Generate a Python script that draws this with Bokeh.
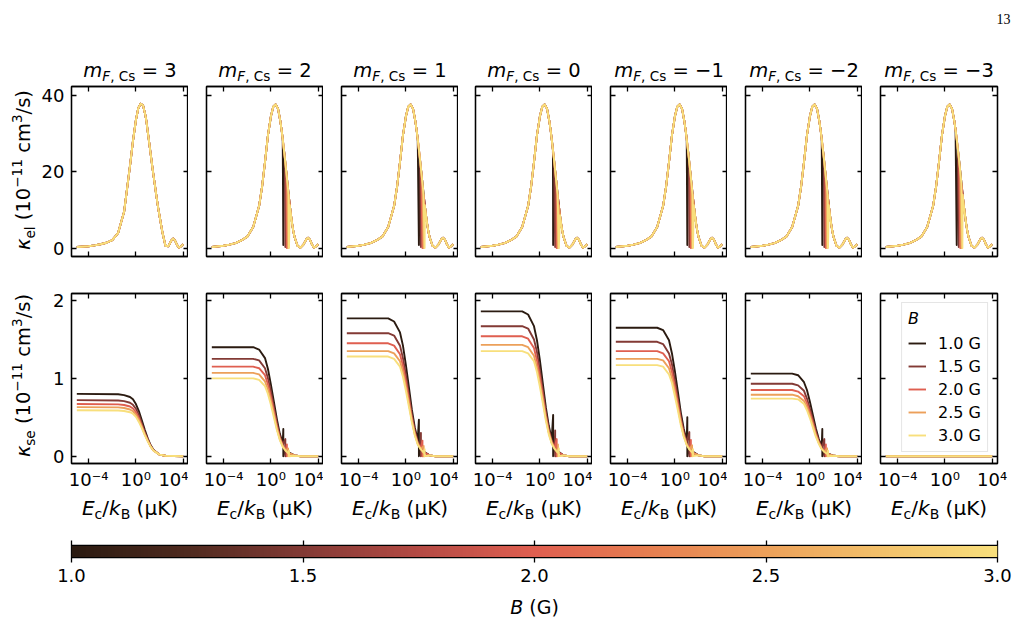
import numpy as np
from bokeh.plotting import figure
from bokeh.layouts import row, column
from bokeh.models import (FixedTicker, LogAxis, LinearAxis, Label, Range1d, Legend,
                          LegendItem, LinearColorMapper, CustomJSTickFormatter,
                          NumeralTickFormatter)
from bokeh.embed import file_html
from bokeh.resources import INLINE

# ---------------------------------------------------------------- data
B_FIELDS = [1.0, 1.5, 2.0, 2.5, 3.0]          # magnetic field (G)
MF_CS = ["3", "2", "1", "0", "−1", "−2", "−3"]  # m_F of Cs, one column each

# log10(E_c / k_B in μK) sample points for the elastic rate
LOG_EC_EL = [-5.0, -4.0, -3.5, -3.0, -2.5, -2.0, -1.5, -1.0, -0.75, -0.5, -0.25, 0.0,
             0.2, 0.4, 0.6, 0.8, 0.9, 1.0, 1.1, 1.2, 1.3, 1.4, 1.5, 1.6, 1.7, 1.8,
             1.9, 2.0, 2.25, 2.5, 2.75, 3.0, 3.15, 3.3, 3.5, 3.65, 3.8, 4.0]

# kappa_el (1e-11 cm^3/s)
KEL_MF3 = [0.3, 0.5, 0.7, 1.0, 1.4, 2.1, 4.0, 9.5, 15.5, 21.5, 28.0, 33.5,
           36.6, 37.8, 37.4, 34.8, 33.0, 30.5, 28.2, 25.8, 23.4, 21.0, 18.8, 16.6, 14.4, 12.2,
           10.2, 8.4, 4.0, 0.6, 0.5, 2.0, 2.5, 2.0, 0.7, 0.1, 0.4, 1.0]
KEL_MF_LOWER = [0.3, 0.6, 0.9, 1.3, 2.0, 3.0, 5.5, 11.0, 16.0, 22.5, 29.5, 34.5,
                37.0, 37.6, 36.5, 33.2, 31.0, 28.5, 25.8, 23.0, 20.0, 17.0, 14.0, 11.2, 8.6, 6.3,
                4.4, 2.9, 0.6, 0.1, 0.9, 2.3, 2.7, 2.2, 0.8, 0.1, 0.4, 1.0]
KEL = [KEL_MF3] + [KEL_MF_LOWER] * 6

# threshold positions, log10(E_c/k_B), for each B (none for m_F = 3)
THRESHOLDS = [
    None,
    [1.05, 1.22, 1.35, 1.45, 1.53],
    [1.10, 1.27, 1.40, 1.50, 1.58],
    [1.12, 1.29, 1.42, 1.52, 1.60],
    [1.05, 1.22, 1.35, 1.45, 1.53],
    [1.05, 1.22, 1.35, 1.45, 1.53],
    [1.00, 1.17, 1.30, 1.40, 1.48],
]
KEL_DIP = [0.8, 0.3, 0.0, 0.0, 0.0]

# log10(E_c / k_B in μK) sample points for the spin-exchange rate
LOG_EC_SE = [-5.0, -1.5, -1.0, -0.5, -0.25, 0.0, 0.25, 0.5, 0.75, 1.0, 1.25, 1.5, 2.0, 2.5, 4.0]

# kappa_se (1e-11 cm^3/s), one row per B
KSE = [
    [  # m_F = 3
        [0.80, 0.795, 0.785, 0.76, 0.73, 0.67, 0.58, 0.46, 0.34, 0.23, 0.14, 0.08, 0.02, 0.005, 0.0],
        [0.72, 0.716, 0.707, 0.686, 0.66, 0.61, 0.53, 0.42, 0.31, 0.215, 0.13, 0.075, 0.02, 0.005, 0.0],
        [0.67, 0.666, 0.658, 0.638, 0.613, 0.565, 0.49, 0.39, 0.29, 0.205, 0.125, 0.073, 0.02, 0.005, 0.0],
        [0.63, 0.627, 0.619, 0.60, 0.577, 0.533, 0.465, 0.375, 0.28, 0.197, 0.122, 0.071, 0.02, 0.005, 0.0],
        [0.59, 0.587, 0.58, 0.565, 0.545, 0.505, 0.44, 0.36, 0.27, 0.19, 0.12, 0.07, 0.02, 0.005, 0.0],
    ],
    [  # m_F = 2
        [1.40, 1.40, 1.37, 1.26, 1.12, 0.92, 0.70, 0.48, 0.29, 0.17, 0.10, 0.05, 0.01, 0.0, 0.0],
        [1.25, 1.25, 1.23, 1.13, 1.00, 0.83, 0.63, 0.43, 0.26, 0.15, 0.09, 0.04, 0.01, 0.0, 0.0],
        [1.15, 1.15, 1.13, 1.04, 0.92, 0.76, 0.58, 0.39, 0.24, 0.14, 0.08, 0.04, 0.01, 0.0, 0.0],
        [1.07, 1.07, 1.05, 0.96, 0.86, 0.71, 0.54, 0.36, 0.22, 0.13, 0.07, 0.04, 0.01, 0.0, 0.0],
        [1.00, 1.00, 0.98, 0.90, 0.80, 0.66, 0.50, 0.34, 0.21, 0.12, 0.07, 0.035, 0.005, 0.0, 0.0],
    ],
    [  # m_F = 1
        [1.77, 1.77, 1.73, 1.59, 1.42, 1.17, 0.89, 0.60, 0.37, 0.21, 0.12, 0.06, 0.01, 0.0, 0.0],
        [1.58, 1.58, 1.55, 1.42, 1.26, 1.04, 0.79, 0.54, 0.33, 0.19, 0.11, 0.055, 0.01, 0.0, 0.0],
        [1.45, 1.45, 1.42, 1.31, 1.16, 0.96, 0.73, 0.49, 0.30, 0.17, 0.10, 0.05, 0.01, 0.0, 0.0],
        [1.35, 1.35, 1.32, 1.22, 1.08, 0.89, 0.68, 0.46, 0.28, 0.16, 0.09, 0.05, 0.01, 0.0, 0.0],
        [1.28, 1.28, 1.25, 1.15, 1.02, 0.84, 0.64, 0.44, 0.27, 0.15, 0.09, 0.045, 0.01, 0.0, 0.0],
    ],
    [  # m_F = 0
        [1.86, 1.86, 1.82, 1.67, 1.49, 1.23, 0.93, 0.63, 0.39, 0.22, 0.13, 0.065, 0.01, 0.0, 0.0],
        [1.67, 1.67, 1.64, 1.50, 1.34, 1.10, 0.84, 0.57, 0.35, 0.20, 0.12, 0.06, 0.01, 0.0, 0.0],
        [1.54, 1.54, 1.51, 1.39, 1.23, 1.02, 0.77, 0.52, 0.32, 0.18, 0.11, 0.054, 0.01, 0.0, 0.0],
        [1.43, 1.43, 1.40, 1.29, 1.14, 0.94, 0.72, 0.49, 0.30, 0.17, 0.10, 0.05, 0.01, 0.0, 0.0],
        [1.35, 1.35, 1.32, 1.22, 1.08, 0.89, 0.68, 0.46, 0.28, 0.16, 0.09, 0.047, 0.01, 0.0, 0.0],
    ],
    [  # m_F = -1
        [1.65, 1.65, 1.62, 1.49, 1.32, 1.09, 0.83, 0.56, 0.35, 0.20, 0.12, 0.06, 0.01, 0.0, 0.0],
        [1.47, 1.47, 1.44, 1.32, 1.18, 0.97, 0.74, 0.50, 0.31, 0.18, 0.10, 0.05, 0.01, 0.0, 0.0],
        [1.35, 1.35, 1.32, 1.22, 1.08, 0.89, 0.68, 0.46, 0.28, 0.16, 0.09, 0.047, 0.01, 0.0, 0.0],
        [1.25, 1.25, 1.23, 1.13, 1.00, 0.83, 0.63, 0.43, 0.26, 0.15, 0.09, 0.044, 0.01, 0.0, 0.0],
        [1.17, 1.17, 1.15, 1.05, 0.94, 0.77, 0.59, 0.40, 0.25, 0.14, 0.08, 0.041, 0.01, 0.0, 0.0],
    ],
    [  # m_F = -2
        [1.06, 1.06, 1.04, 0.95, 0.85, 0.70, 0.53, 0.36, 0.22, 0.13, 0.07, 0.037, 0.005, 0.0, 0.0],
        [0.93, 0.93, 0.91, 0.84, 0.74, 0.61, 0.47, 0.32, 0.20, 0.11, 0.065, 0.033, 0.005, 0.0, 0.0],
        [0.85, 0.85, 0.83, 0.77, 0.68, 0.56, 0.43, 0.29, 0.18, 0.10, 0.06, 0.03, 0.005, 0.0, 0.0],
        [0.79, 0.79, 0.77, 0.71, 0.63, 0.52, 0.40, 0.27, 0.17, 0.095, 0.055, 0.028, 0.005, 0.0, 0.0],
        [0.74, 0.74, 0.73, 0.67, 0.59, 0.49, 0.37, 0.25, 0.16, 0.09, 0.05, 0.026, 0.005, 0.0, 0.0],
    ],
    [  # m_F = -3
        [0.0] * 15, [0.0] * 15, [0.0] * 15, [0.0] * 15, [0.0] * 15,
    ],
]

# height of the spin-exchange resonance at threshold
KSE_PEAK = [
    None,
    [0.35, 0.22, 0.15, 0.10, 0.07],
    [0.47, 0.30, 0.20, 0.13, 0.09],
    [0.53, 0.33, 0.22, 0.15, 0.10],
    [0.50, 0.31, 0.21, 0.14, 0.09],
    [0.35, 0.22, 0.15, 0.10, 0.07],
    None,
]

CB_TICKS = [1.0, 1.5, 2.0, 2.5, 3.0]

# ---------------------------------------------------------------- styling
FONT = "DejaVu Sans"
TICK_FS = "18px"
CMAP_ANCHORS = ["#2b1b11", "#4f2a1f", "#833a35", "#b44a44", "#df5f50",
                "#e67e50", "#eca05a", "#f2c06a", "#f8df7c"]


def build_palette(anchors, n=256):
    rgb = np.array([[int(h[i:i + 2], 16) for i in (1, 3, 5)] for h in anchors], float)
    pos = np.linspace(0, 1, len(anchors))
    t = np.linspace(0, 1, n)
    cols = np.stack([np.interp(t, pos, rgb[:, k]) for k in range(3)], axis=1)
    return ["#%02x%02x%02x" % tuple(int(round(v)) for v in c) for c in cols]


PALETTE = build_palette(CMAP_ANCHORS)
LINE_COLORS = [PALETTE[int(round((b - 1.0) / 2.0 * 255))] for b in B_FIELDS]

# DejaVu Sans advance widths (em) for composing mixed-style text
ADV = {" ": 0.318, "(": 0.390, ")": 0.390, "/": 0.337, ".": 0.318, ",": 0.318,
       "=": 0.838, "−": 0.838, "c": 0.550, "m": 0.974, "s": 0.521, "e": 0.615,
       "l": 0.278, "C": 0.698, "F": 0.575, "E": 0.632, "k": 0.579, "B": 0.686,
       "K": 0.656, "μ": 0.635, "κ": 0.579, "G": 0.775}
for d in "0123456789":
    ADV[d] = 0.636

# labels sit slightly below their anchor; lift them by this fraction of their size
BASE_LIFT = 0.27


def text_w(s, size):
    return sum(ADV.get(ch, 0.6) for ch in s) * size


def rich(fig, pieces, x, y, size, angle=0.0):
    """Lay out (text, style, scale, shift_em) pieces centred on (x, y)."""
    total = sum(text_w(t, size * sc) for t, _, sc, _ in pieces)
    pos = -total / 2.0
    for t, style, sc, shift in pieces:
        fs = size * sc
        core = t.strip(" ")
        lead = len(t) - len(t.lstrip(" "))
        trail = len(t) - lead - len(core)
        pos += lead * ADV[" "] * fs
        off = shift * size + BASE_LIFT * fs
        if angle == 0.0:
            lx, ly = x + pos, y + off
        else:
            lx, ly = x - off, y + pos
        fig.add_layout(Label(x=lx, y=ly, x_units="screen", y_units="screen", text=core,
                             angle=angle, text_font=FONT, text_font_size=f"{fs:.1f}px",
                             text_font_style=style, text_color="black",
                             text_align="left", text_baseline="alphabetic"))
        pos += text_w(core, fs) + trail * ADV[" "] * fs


def no_align(f):
    try:
        f.frame_align = False
    except AttributeError:
        pass


def blank(w, h):
    """A bare canvas for text placed around the panels."""
    f = figure(width=w, height=h, x_range=Range1d(0, w), y_range=Range1d(0, h),
               x_axis_location=None, y_axis_location=None, min_border=0,
               toolbar_location=None, output_backend="svg")
    f.grid.visible = False
    f.outline_line_color = None
    f.background_fill_color = "white"
    f.border_fill_color = "white"
    no_align(f)
    return f


def with_spike(xs, ys, thr, extra):
    pre = [(x, y) for x, y in zip(xs, ys) if x < thr]
    post = [(x, y) for x, y in zip(xs, ys) if x > thr]
    pts = pre + [(thr, v) for v in extra] + post
    return [10 ** p[0] for p in pts], [p[1] for p in pts]


YLAB_W = 38                    # strip on the left holding the y titles
LEFTS = [71, 206, 341, 475, 610, 745, 880]   # frame left edges on the page
FRAME_W, FRAME_H = 117, 170
HEADER_H = 84
X_TICKS = [1e-4, 1.0, 1e4]
POW_FMT = CustomJSTickFormatter(code="""
const m = {"-4": "10\u207b\u2074", "0": "10\u2070", "4": "10\u2074"};
return m[String(Math.round(Math.log10(tick)))];
""")


def style_axis(ax, show):
    ax.major_tick_in = 5
    ax.major_tick_out = 0
    ax.minor_tick_in = 0
    ax.minor_tick_out = 0
    ax.major_tick_line_color = "black"
    ax.major_tick_line_width = 1.3
    ax.axis_line_color = "black"
    ax.axis_line_width = 1.3
    if show:
        ax.major_label_text_font = FONT
        ax.major_label_text_font_size = TICK_FS
        ax.major_label_text_color = "black"
    else:
        ax.major_label_text_font_size = "1px"
        ax.major_label_text_alpha = 0.0
        ax.major_label_standoff = 0


def make_panel(i, r):
    left = LEFTS[0] - YLAB_W if i == 0 else LEFTS[i] - LEFTS[i - 1] - FRAME_W
    right = 1022 - (LEFTS[6] + FRAME_W) if i == 6 else 0
    top, bottom = (86 - HEADER_H, 5) if r == 0 else (32, 30)
    yr = Range1d(-2.2, 42.3) if r == 0 else Range1d(-0.094, 2.09)
    yt = [0, 20, 40] if r == 0 else [0, 1, 2]
    p = figure(frame_width=FRAME_W, frame_height=FRAME_H, x_axis_type="log",
               x_range=Range1d(10 ** -5.45, 10 ** 4.45), y_range=yr,
               min_border_left=left, min_border_right=right,
               min_border_top=top, min_border_bottom=bottom,
               toolbar_location=None, output_backend="svg")
    p.grid.visible = False
    p.outline_line_color = "black"
    p.outline_line_width = 1.3
    p.background_fill_color = "white"
    p.border_fill_color = "white"

    p.xaxis.ticker = FixedTicker(ticks=X_TICKS, minor_ticks=[])
    p.yaxis.ticker = FixedTicker(ticks=yt, minor_ticks=[])
    style_axis(p.xaxis[0], r == 1)
    style_axis(p.yaxis[0], i == 0)
    if r == 1:
        p.xaxis[0].formatter = POW_FMT
        p.xaxis[0].major_label_standoff = 5
    if i == 0:
        p.yaxis[0].major_label_standoff = 7

    ax_top = LogAxis(ticker=FixedTicker(ticks=X_TICKS, minor_ticks=[]))
    style_axis(ax_top, False)
    p.add_layout(ax_top, "above")
    ax_right = LinearAxis(ticker=FixedTicker(ticks=yt, minor_ticks=[]))
    style_axis(ax_right, False)
    p.add_layout(ax_right, "right")
    return p


def kappa_label(sub):
    return [("κ", "italic", 1.0, 0.0), (sub, "normal", 0.7, -0.22),
            (" (10", "normal", 1.0, 0.0), ("−11", "normal", 0.7, 0.42),
            (" cm", "normal", 1.0, 0.0), ("3", "normal", 0.7, 0.42),
            ("/s)", "normal", 1.0, 0.0)]


RIGHT_W = 1022 - YLAB_W

# ---- header with the column titles and the page number
header = blank(RIGHT_W, HEADER_H)
for i, mf in enumerate(MF_CS):
    rich(header, [("m", "italic", 1.0, 0.0), ("F", "italic", 0.7, -0.22),
                  (",", "normal", 0.7, -0.22), (" Cs", "normal", 0.7, -0.22),
                  (" = " + mf, "normal", 1.0, 0.0)],
         LEFTS[i] - YLAB_W + FRAME_W / 2.0, HEADER_H - 75, 19.5)
header.add_layout(Label(x=1003 - YLAB_W, y=HEADER_H - 22 + BASE_LIFT * 14,
                        x_units="screen", y_units="screen",
                        text="13", text_font="Liberation Serif", text_font_size="14px",
                        text_align="center", text_baseline="alphabetic", text_color="black"))

top_row, bottom_row = [], []
for i, mf in enumerate(MF_CS):
    # ---- elastic rate
    p = make_panel(i, 0)
    for k, col in enumerate(LINE_COLORS):
        if THRESHOLDS[i] is None:
            xs = [10 ** v for v in LOG_EC_EL]
            ys = KEL[i]
        else:
            xs, ys = with_spike(LOG_EC_EL, KEL[i], THRESHOLDS[i][k], [KEL_DIP[k]])
        p.line(xs, ys, line_color=col, line_width=1.9, line_join="round")
    top_row.append(p)

    # ---- spin-exchange rate
    q = make_panel(i, 1)
    rends = []
    for k, col in enumerate(LINE_COLORS):
        if KSE_PEAK[i] is None:
            xs = [10 ** v for v in LOG_EC_SE]
            ys = KSE[i][k]
        else:
            xs, ys = with_spike(LOG_EC_SE, KSE[i][k], THRESHOLDS[i][k], [KSE_PEAK[i][k], 0.0])
        rends.append(q.line(xs, ys, line_color=col, line_width=1.9, line_join="round"))
    if i == 6:
        legend = Legend(items=[LegendItem(label=f"{b:.1f} G", renderers=[rr])
                               for b, rr in zip(B_FIELDS, rends)],
                        location="top_right", title="B", title_text_font_style="italic",
                        title_text_font=FONT, title_text_font_size="16px",
                        title_text_color="black",
                        label_text_font=FONT, label_text_font_size="16px",
                        label_text_color="black",
                        glyph_width=18, glyph_height=20, label_height=20,
                        label_standoff=12, spacing=3, padding=6, margin=9,
                        border_line_color="#cccccc", border_line_width=1,
                        background_fill_alpha=0.8)
        q.add_layout(legend)
    bottom_row.append(q)

# ---- x-axis titles under the lower panels
XLAB_H = 42
xlab = blank(RIGHT_W, XLAB_H)
for i in range(len(MF_CS)):
    rich(xlab, [("E", "italic", 1.0, 0.0), ("c", "normal", 0.7, -0.22),
                ("/", "normal", 1.0, 0.0), ("k", "italic", 1.0, 0.0),
                ("B", "normal", 0.7, -0.22), (" (μK)", "normal", 1.0, 0.0)],
         LEFTS[i] - YLAB_W + FRAME_W / 2.0, 22, 20)

# ---------------------------------------------------------------- colour bar
cb = figure(frame_width=926, frame_height=12, x_range=Range1d(1.0, 3.0), y_range=Range1d(0, 1),
            min_border_left=LEFTS[0] - YLAB_W, min_border_right=25,
            min_border_top=10, min_border_bottom=37,
            toolbar_location=None, output_backend="svg")
no_align(cb)
cb.grid.visible = False
cb.yaxis.visible = False
cb.outline_line_color = "black"
cb.outline_line_width = 1.3
grad = np.linspace(1.0, 3.0, 512).reshape(1, -1)
cb.image(image=[grad], x=1.0, y=0.0, dw=2.0, dh=1.0,
         color_mapper=LinearColorMapper(palette=PALETTE, low=1.0, high=3.0))
cax = cb.xaxis[0]
cax.ticker = FixedTicker(ticks=CB_TICKS, minor_ticks=[])
cax.formatter = NumeralTickFormatter(format="0.0")
cax.major_tick_in = 0
cax.major_tick_out = 5
cax.minor_tick_out = 0
cax.major_tick_line_color = "black"
cax.major_tick_line_width = 1.3
cax.axis_line_color = "black"
cax.major_label_text_font = FONT
cax.major_label_text_font_size = TICK_FS
cax.major_label_text_color = "black"
cax.major_label_standoff = 6
cax_top = LinearAxis(ticker=FixedTicker(ticks=CB_TICKS, minor_ticks=[]))
cax_top.major_tick_in = 0
cax_top.major_tick_out = 5
cax_top.minor_tick_out = 0
cax_top.major_tick_line_color = "black"
cax_top.major_tick_line_width = 1.3
cax_top.axis_line_color = "black"
cax_top.major_label_text_font_size = "1px"
cax_top.major_label_text_alpha = 0.0
cax_top.major_label_standoff = 0
cb.add_layout(cax_top, "above")

row1_h = (86 - HEADER_H) + FRAME_H + 5
row2_h = 32 + FRAME_H + 30
CBLAB_H = 622 - HEADER_H - row1_h - row2_h - XLAB_H - (10 + 12 + 37)
cblab = blank(RIGHT_W, CBLAB_H)
rich(cblab, [("B", "italic", 1.0, 0.0), (" (G)", "normal", 1.0, 0.0)],
     LEFTS[0] - YLAB_W + 463, CBLAB_H - 18, 19)

# ---- y-axis titles, one tall strip for both rows
ylab = blank(YLAB_W, 622)
rich(ylab, kappa_label("el"), 28.5, 622 - 169.5, 19.5, angle=np.pi / 2)
rich(ylab, kappa_label("se"), 28.5, 622 - 375, 19.5, angle=np.pi / 2)

right_part = column(header, row(*top_row), row(*bottom_row), xlab, cb, cblab)
layout = row(ylab, right_part)
open("out.html", "w").write(file_html(layout, INLINE))
